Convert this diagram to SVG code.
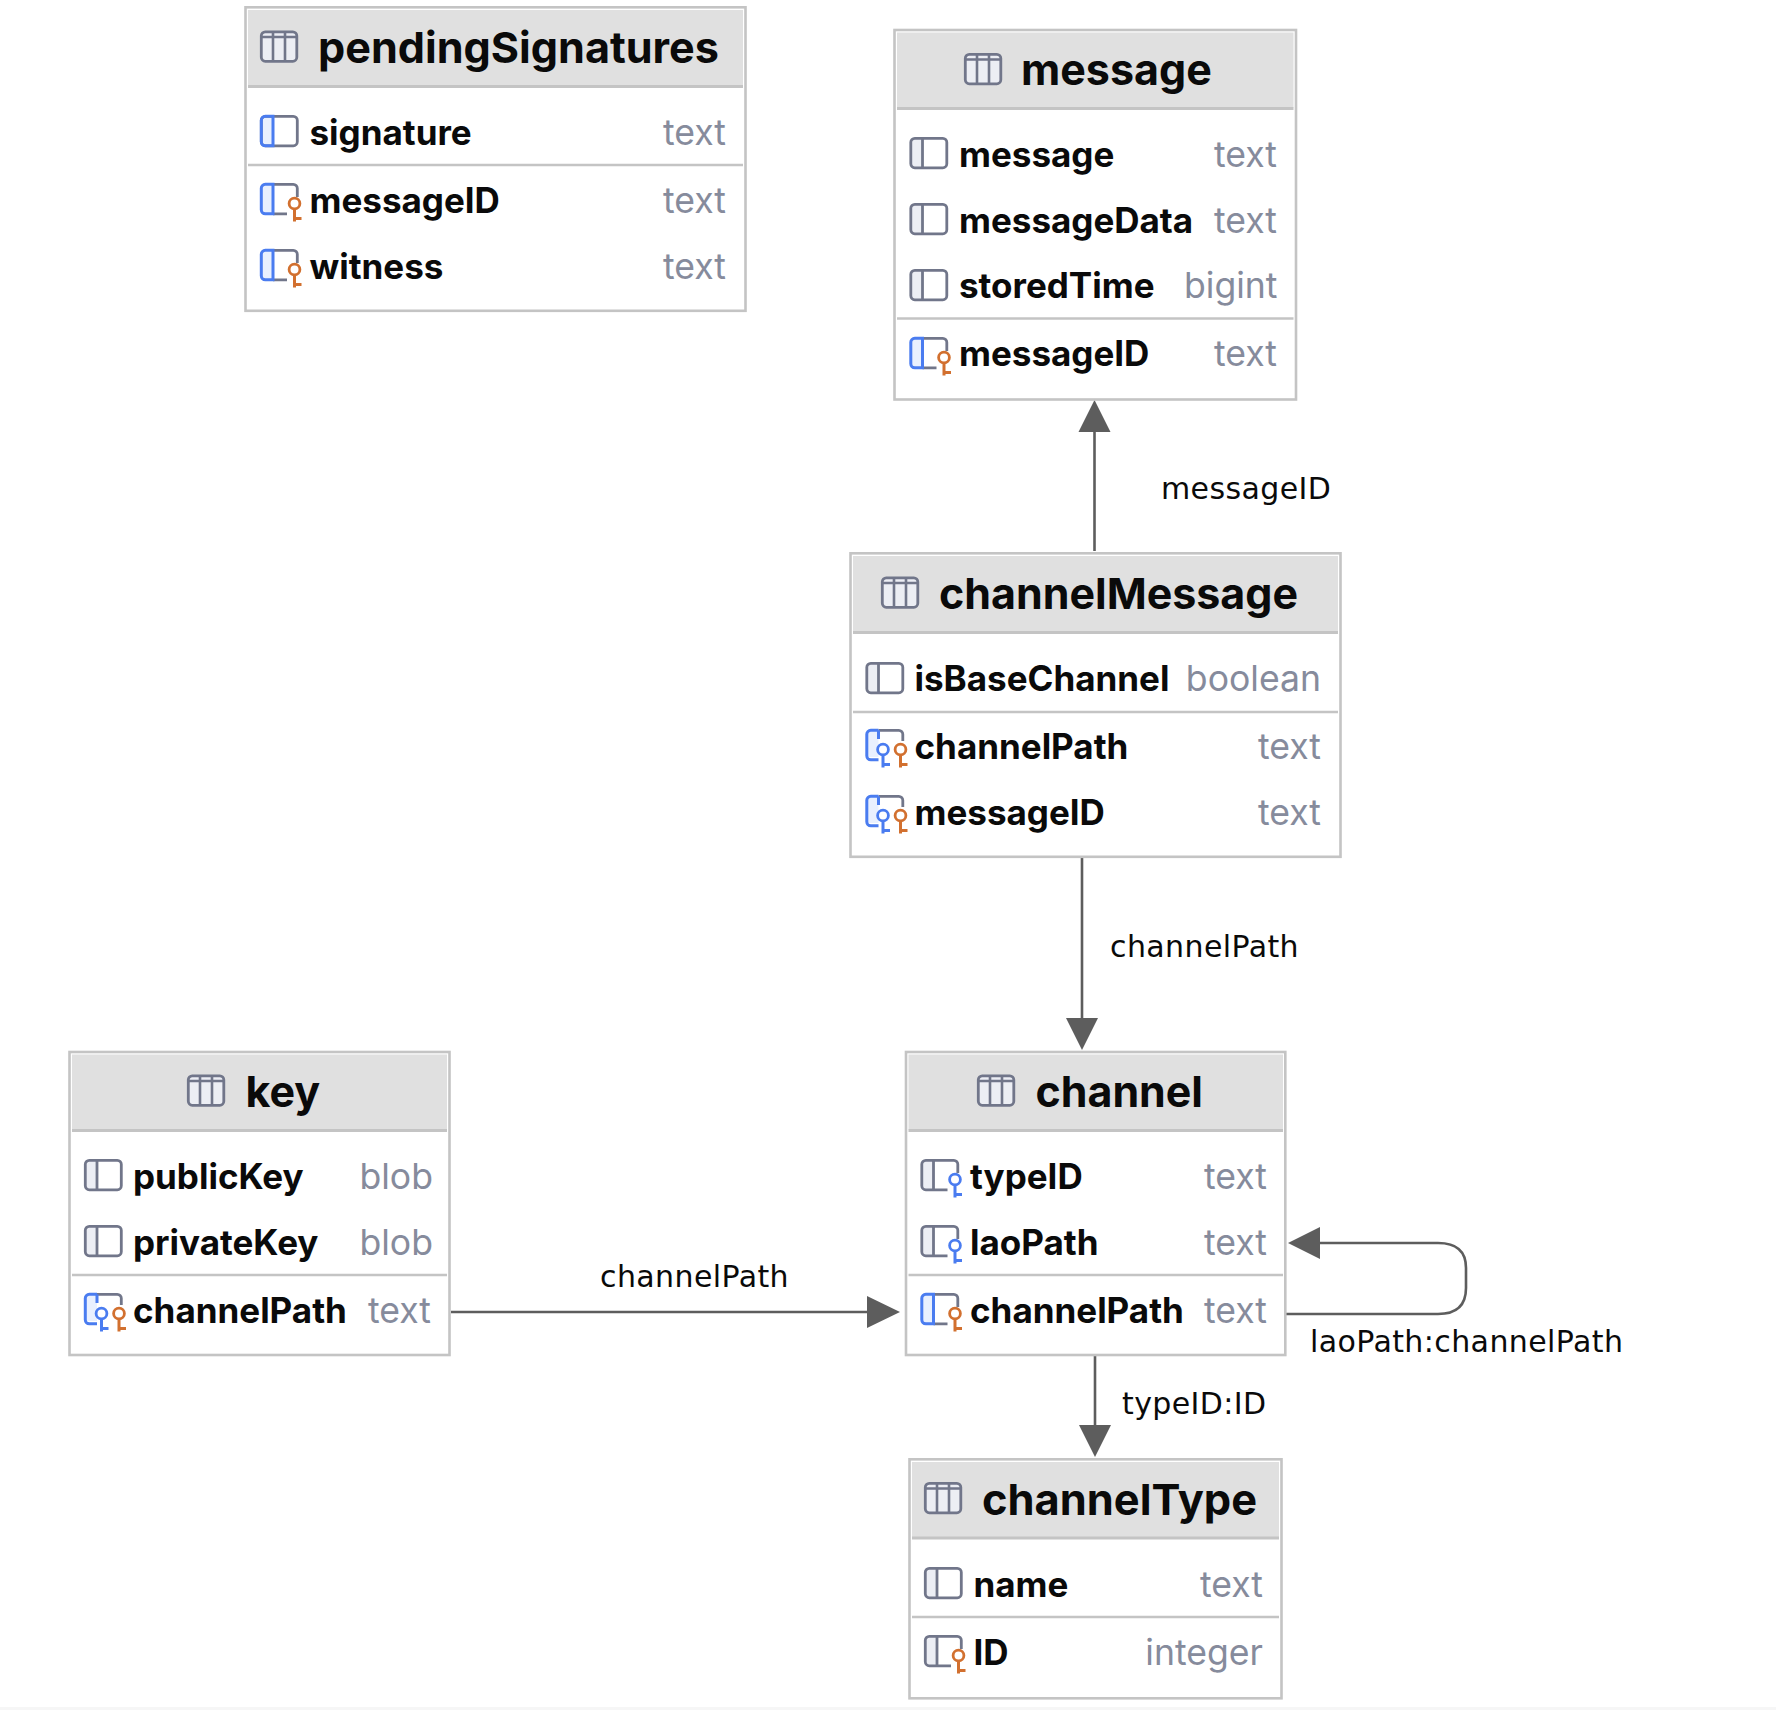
<svg xmlns="http://www.w3.org/2000/svg" xmlns:xlink="http://www.w3.org/1999/xlink" width="1776" height="1710" viewBox="0 0 1776 1710">
<style>
.frame{fill:#fff;stroke:#c4c4c4;stroke-width:2.6}
.head{fill:#e0e0e0}
.sep{stroke:#c4c4c4;stroke-width:2.4;fill:none}
.hsep{stroke:#c4c4c4;stroke-width:3;fill:none}
.title{font-family:Inter,"Liberation Sans",sans-serif;font-weight:700;font-size:43px;fill:#0a0a0a}
.name{font-family:Inter,"Liberation Sans",sans-serif;font-weight:700;font-size:35px;fill:#0a0a0a}
.type{font-family:Inter,"Liberation Sans",sans-serif;font-weight:400;font-size:35.6px;fill:#868b9c;text-anchor:end}
.lbl{font-family:"DejaVu Sans",sans-serif;font-size:30px;letter-spacing:.4px;fill:#0a0a0a}
.edge{fill:none;stroke:#5d5d5d;stroke-width:2.6}
.ahead{fill:#5d5d5d;stroke:none}
.g{stroke:#71768a;stroke-width:2.8;fill:none}
.gf{fill:#eceef4;stroke:none}
.b{stroke:#4a7cf0;stroke-width:3;fill:none}
.bf{fill:#e9f0fe;stroke:none}
.kb{stroke:#4a7cf0;stroke-width:2.8;fill:#fff}
.ko{stroke:#d2702f;stroke-width:2.8;fill:#fff}
.kbl{stroke:#4a7cf0;stroke-width:3;fill:none}
.kol{stroke:#d2702f;stroke-width:3;fill:none}
</style>
<defs>
<g id="i-table">
<rect x="1.3" y="1.3" width="35.5" height="29.5" rx="4" fill="#eceef4" stroke="#71768a" stroke-width="2.8"/>
<path d="M1.3 6.5H36.8M13 1.3V30.8M25 1.3V30.8" fill="none" stroke="#71768a" stroke-width="2.6"/>
</g>
<g id="i-col">
<path class="gf" d="M2 2H13V30H2Z"/>
<rect class="g" x="1.3" y="1.3" width="36" height="29.5" rx="4"/>
<path class="g" d="M13 1.3V30.8"/>
</g>
<g id="i-colb">
<path class="bf" d="M2 2H13V30H2Z"/>
<rect class="g" x="1.3" y="1.3" width="36" height="29.5" rx="4"/>
<path class="b" d="M13 1.3H5.3a4 4 0 0 0-4 4V26.8a4 4 0 0 0 4 4H13ZM13 1.3"/>
</g>
<g id="i-colk">
<path class="gf" d="M2 2H13V30H2Z"/>
<path class="g" d="M37.3 14V5.3a4 4 0 0 0-4-4H5.3a4 4 0 0 0-4 4V26.8a4 4 0 0 0 4 4H27M13 1.3V30.8"/>
</g>
<g id="i-colbk">
<path class="bf" d="M2 2H13V30H2Z"/>
<path class="g" d="M37.3 14V5.3a4 4 0 0 0-4-4H13M13 30.8H27"/>
<path class="b" d="M13 1.3H5.3a4 4 0 0 0-4 4V26.8a4 4 0 0 0 4 4H13Z"/>
</g>
<g id="i-colbb">
<path class="bf" d="M2 2H13V28H2Z"/>
<path class="g" d="M37.3 12V5.3a4 4 0 0 0-4-4H13"/>
<path class="b" d="M13 1.3H5.3a4 4 0 0 0-4 4V26.8a4 4 0 0 0 4 4H13M13 1.3V10"/>
</g>
<g id="key-o"><path class="kol" d="M0 5V18M0 15H7"/><circle class="ko" cx="0" cy="0" r="5.4"/></g>
<g id="key-b"><path class="kbl" d="M0 5V18M0 15H7"/><circle class="kb" cx="0" cy="0" r="5.4"/></g>
<g id="i-po"><use xlink:href="#i-colbk"/><use xlink:href="#key-o" x="34.5" y="20.5"/></g>
<g id="i-go"><use xlink:href="#i-colk"/><use xlink:href="#key-o" x="34.5" y="20.5"/></g>
<g id="i-gb"><use xlink:href="#i-colk"/><use xlink:href="#key-b" x="34.5" y="20.5"/></g>
<g id="i-2k"><use xlink:href="#i-colbb"/><use xlink:href="#key-b" x="17.5" y="20.5"/><use xlink:href="#key-o" x="35" y="20.5"/></g>
</defs>
<rect width="1776" height="1710" fill="#fff"/>
<rect y="1707" width="1776" height="3" fill="#f6f6f6"/>

<g id="connectors">
<g id="e-channelMessage-message"><path class="edge" d="M1094.5 551V428"/><path class="ahead" d="M1094.5 400L1110.5 432H1078.5Z"/></g>
<g id="e-channelMessage-channel"><path class="edge" d="M1082 858V1022"/><path class="ahead" d="M1082 1050L1066 1018H1098Z"/></g>
<g id="e-key-channel"><path class="edge" d="M451 1312H870"/><path class="ahead" d="M900 1312L867 1296V1328Z"/></g>
<g id="e-channel-self"><path class="edge" d="M1286 1314H1438Q1466 1314 1466 1288V1268Q1466 1243 1438 1243H1318"/><path class="ahead" d="M1288 1243L1320 1227V1259Z"/></g>
<g id="e-channel-channelType"><path class="edge" d="M1095 1356V1428"/><path class="ahead" d="M1095 1457L1079 1425H1111Z"/></g>
<text class="lbl" x="1161" y="499">messageID</text>
<text class="lbl" x="1110" y="957">channelPath</text>
<text class="lbl" x="600" y="1287">channelPath</text>
<text class="lbl" x="1310" y="1352">laoPath:channelPath</text>
<text class="lbl" x="1122" y="1414">typeID:ID</text>
</g>

<g id="pendingSignatures">
<rect class="frame" x="245.5" y="7.3" width="500" height="303.5"/>
<rect class="head" x="248" y="10" width="495" height="75"/>
<path class="hsep" d="M248 86.5H743"/><path class="sep" d="M248 165H743"/>
<use xlink:href="#i-table" x="260" y="30.5"/>
<text class="title" x="318" y="62.5" textLength="401" lengthAdjust="spacingAndGlyphs">pendingSignatures</text>
<use xlink:href="#i-colb" x="260" y="115"/><text class="name" x="309.5" y="145">signature</text><text class="type" x="726" y="145">text</text>
<use xlink:href="#i-po" x="260" y="183"/><text class="name" x="309.5" y="213">messageID</text><text class="type" x="726" y="213">text</text>
<use xlink:href="#i-po" x="260" y="249"/><text class="name" x="309.5" y="279">witness</text><text class="type" x="726" y="279">text</text>
</g>

<g id="message">
<rect class="frame" x="894.5" y="30" width="401.5" height="369.5"/>
<rect class="head" x="897" y="32.5" width="396.5" height="75"/>
<path class="hsep" d="M897 108.5H1293.5"/><path class="sep" d="M897 318.5H1293.5"/>
<use xlink:href="#i-table" x="964" y="53"/>
<text class="title" x="1021" y="84.5">message</text>
<use xlink:href="#i-col" x="909.5" y="137"/><text class="name" x="959" y="166.5">message</text><text class="type" x="1277" y="166.5">text</text>
<use xlink:href="#i-col" x="909.5" y="203"/><text class="name" x="959" y="232.5">messageData</text><text class="type" x="1277" y="232.5">text</text>
<use xlink:href="#i-col" x="909.5" y="269"/><text class="name" x="959" y="298">storedTime</text><text class="type" x="1277.5" y="298">bigint</text>
<use xlink:href="#i-po" x="909.5" y="337"/><text class="name" x="959" y="366">messageID</text><text class="type" x="1277" y="366">text</text>
</g>

<g id="channelMessage">
<rect class="frame" x="850.5" y="553.3" width="490" height="303.5"/>
<rect class="head" x="853" y="556" width="485" height="75"/>
<path class="hsep" d="M853 632.5H1338"/><path class="sep" d="M853 712H1338"/>
<use xlink:href="#i-table" x="881" y="576.5"/>
<text class="title" x="939" y="609" textLength="359" lengthAdjust="spacingAndGlyphs">channelMessage</text>
<use xlink:href="#i-col" x="865.5" y="662"/><text class="name" x="914.5" y="691">isBaseChannel</text><text class="type" x="1321" y="691">boolean</text>
<use xlink:href="#i-2k" x="865.5" y="729"/><text class="name" x="914.5" y="759">channelPath</text><text class="type" x="1321" y="759">text</text>
<use xlink:href="#i-2k" x="865.5" y="795"/><text class="name" x="914.5" y="825">messageID</text><text class="type" x="1321" y="825">text</text>
</g>

<g id="key">
<rect class="frame" x="69.5" y="1052" width="380" height="303"/>
<rect class="head" x="72" y="1054.5" width="375" height="75"/>
<path class="hsep" d="M72 1130.5H447"/><path class="sep" d="M72 1275H447"/>
<use xlink:href="#i-table" x="187" y="1074.5"/>
<text class="title" x="245.5" y="1107">key</text>
<use xlink:href="#i-col" x="84" y="1159"/><text class="name" x="133" y="1189">publicKey</text><text class="type" x="433" y="1189">blob</text>
<use xlink:href="#i-col" x="84" y="1225"/><text class="name" x="133" y="1255">privateKey</text><text class="type" x="433" y="1255">blob</text>
<use xlink:href="#i-2k" x="84" y="1293"/><text class="name" x="133" y="1323">channelPath</text><text class="type" x="431" y="1323">text</text>
</g>

<g id="channel">
<rect class="frame" x="906" y="1052" width="379.3" height="303"/>
<rect class="head" x="908.5" y="1054.5" width="374.5" height="75"/>
<path class="hsep" d="M908.5 1130.5H1283"/><path class="sep" d="M908.5 1275H1283"/>
<use xlink:href="#i-table" x="977" y="1074.5"/>
<text class="title" x="1035.5" y="1107" textLength="167.5" lengthAdjust="spacingAndGlyphs">channel</text>
<use xlink:href="#i-gb" x="920.5" y="1159"/><text class="name" x="970" y="1189">typeID</text><text class="type" x="1267" y="1189">text</text>
<use xlink:href="#i-gb" x="920.5" y="1225"/><text class="name" x="970" y="1255">laoPath</text><text class="type" x="1267" y="1255">text</text>
<use xlink:href="#i-po" x="920.5" y="1293"/><text class="name" x="970" y="1323">channelPath</text><text class="type" x="1267" y="1323">text</text>
</g>

<g id="channelType">
<rect class="frame" x="909.5" y="1459.3" width="372" height="239"/>
<rect class="head" x="912" y="1462" width="367" height="75"/>
<path class="hsep" d="M912 1538H1279"/><path class="sep" d="M912 1617H1279"/>
<use xlink:href="#i-table" x="924" y="1482"/>
<text class="title" x="982" y="1515" textLength="275" lengthAdjust="spacingAndGlyphs">channelType</text>
<use xlink:href="#i-col" x="924" y="1567"/><text class="name" x="973.5" y="1597">name</text><text class="type" x="1263" y="1597">text</text>
<use xlink:href="#i-go" x="924" y="1635"/><text class="name" x="973.5" y="1665">ID</text><text class="type" x="1263" y="1665">integer</text>
</g>
</svg>
